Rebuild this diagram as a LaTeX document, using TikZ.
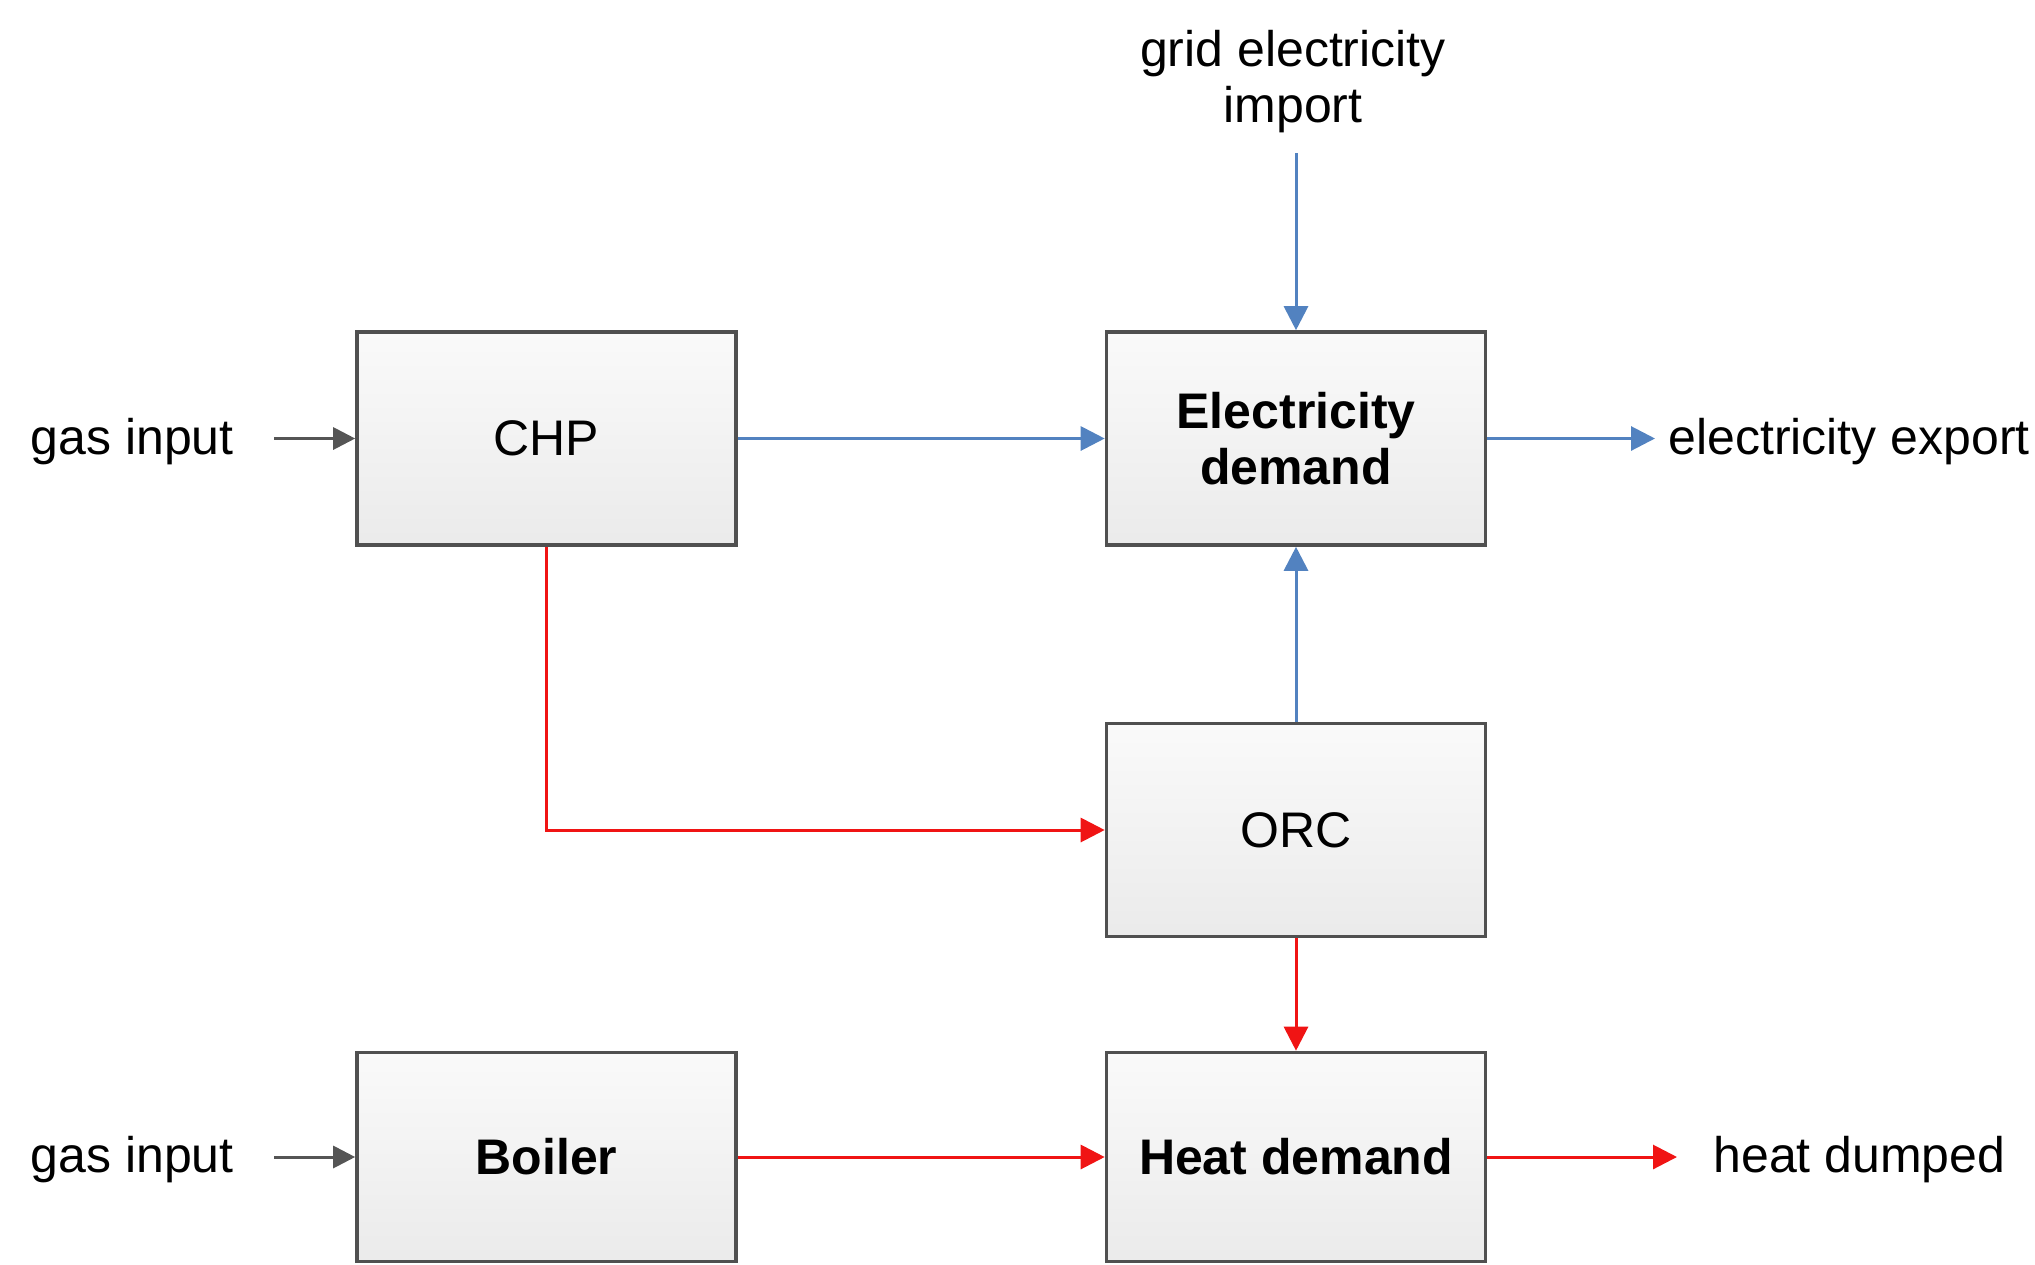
\documentclass[tikz,border=0pt]{standalone}
\usepackage{fontspec}
\setmainfont{Liberation Sans}
\usetikzlibrary{arrows.meta}
\definecolor{elblue}{HTML}{5282C0}
\definecolor{heatred}{HTML}{F01414}
\definecolor{boxedge}{HTML}{505050}
\definecolor{gasgray}{HTML}{555555}
\begin{document}
\begin{tikzpicture}[x=0.5pt,y=-0.5pt,
  blockbox/.style={draw=boxedge, line width=1.8pt, top color=white!98!black, bottom color=white!92!black,
    minimum width=189.5pt, minimum height=106.5pt, inner sep=0pt, align=center,
    font=\fontsize{25}{28}\selectfont},
  lbl/.style={font=\fontsize{25}{28}\selectfont, align=center, inner sep=0pt},
  eflow/.style={draw=elblue, line width=1.5pt, -{Triangle[length=12pt,width=12pt]}},
  hflow/.style={draw=heatred, line width=1.5pt, -{Triangle[length=12pt,width=12pt]}},
  gflow/.style={draw=gasgray, line width=1.5pt, -{Triangle[length=11pt,width=11pt]}}]
\useasboundingbox (0,0) rectangle (2035,1264);

% boxes
\node[blockbox] (chp) at (546.5,438.5) {CHP};
\node[blockbox, font=\fontsize{25}{28}\selectfont\bfseries] (elec) at (1296,438.5) {Electricity\\demand};
\node[blockbox] (orc) at (1296,830) {ORC};
\node[blockbox, minimum height=104.5pt, font=\fontsize{25}{28}\selectfont\bfseries] (boiler) at (546.5,1157) {Boiler};
\node[blockbox, minimum height=104.5pt, font=\fontsize{25}{28}\selectfont\bfseries] (heat) at (1296,1157) {Heat demand};

% labels
\node[lbl, anchor=east] (gasA) at (234,442) {gas input};
\node[lbl, anchor=east] (gasB) at (234,1160) {gas input};
\node[lbl] (grid) at (1293,82) {grid electricity\\import};
\node[lbl, anchor=west] (export) at (1668,442) {electricity export};
\node[lbl, anchor=west] (dump) at (1713,1160) {heat dumped};

% free ends
\coordinate (gasAend) at (274,438.5);
\coordinate (gasBend) at (274,1157);
\coordinate (gridend) at (1296,153);
\coordinate (exportend) at (1655,438.5);
\coordinate (dumpend) at (1677,1157);

% connectors
\draw[gflow] (gasAend) -- (chp.west);
\draw[gflow] (gasBend) -- (boiler.west);
\draw[eflow] (gridend) -- (elec.north);
\draw[eflow] (chp.east) -- (elec.west);
\draw[eflow] (elec.east) -- (exportend);
\draw[eflow] (orc.north) -- (elec.south);
\draw[hflow] (chp.south) |- (orc.west);
\draw[hflow] (orc.south) -- (heat.north);
\draw[hflow] (boiler.east) -- (heat.west);
\draw[hflow] (heat.east) -- (dumpend);
\end{tikzpicture}
\end{document}
